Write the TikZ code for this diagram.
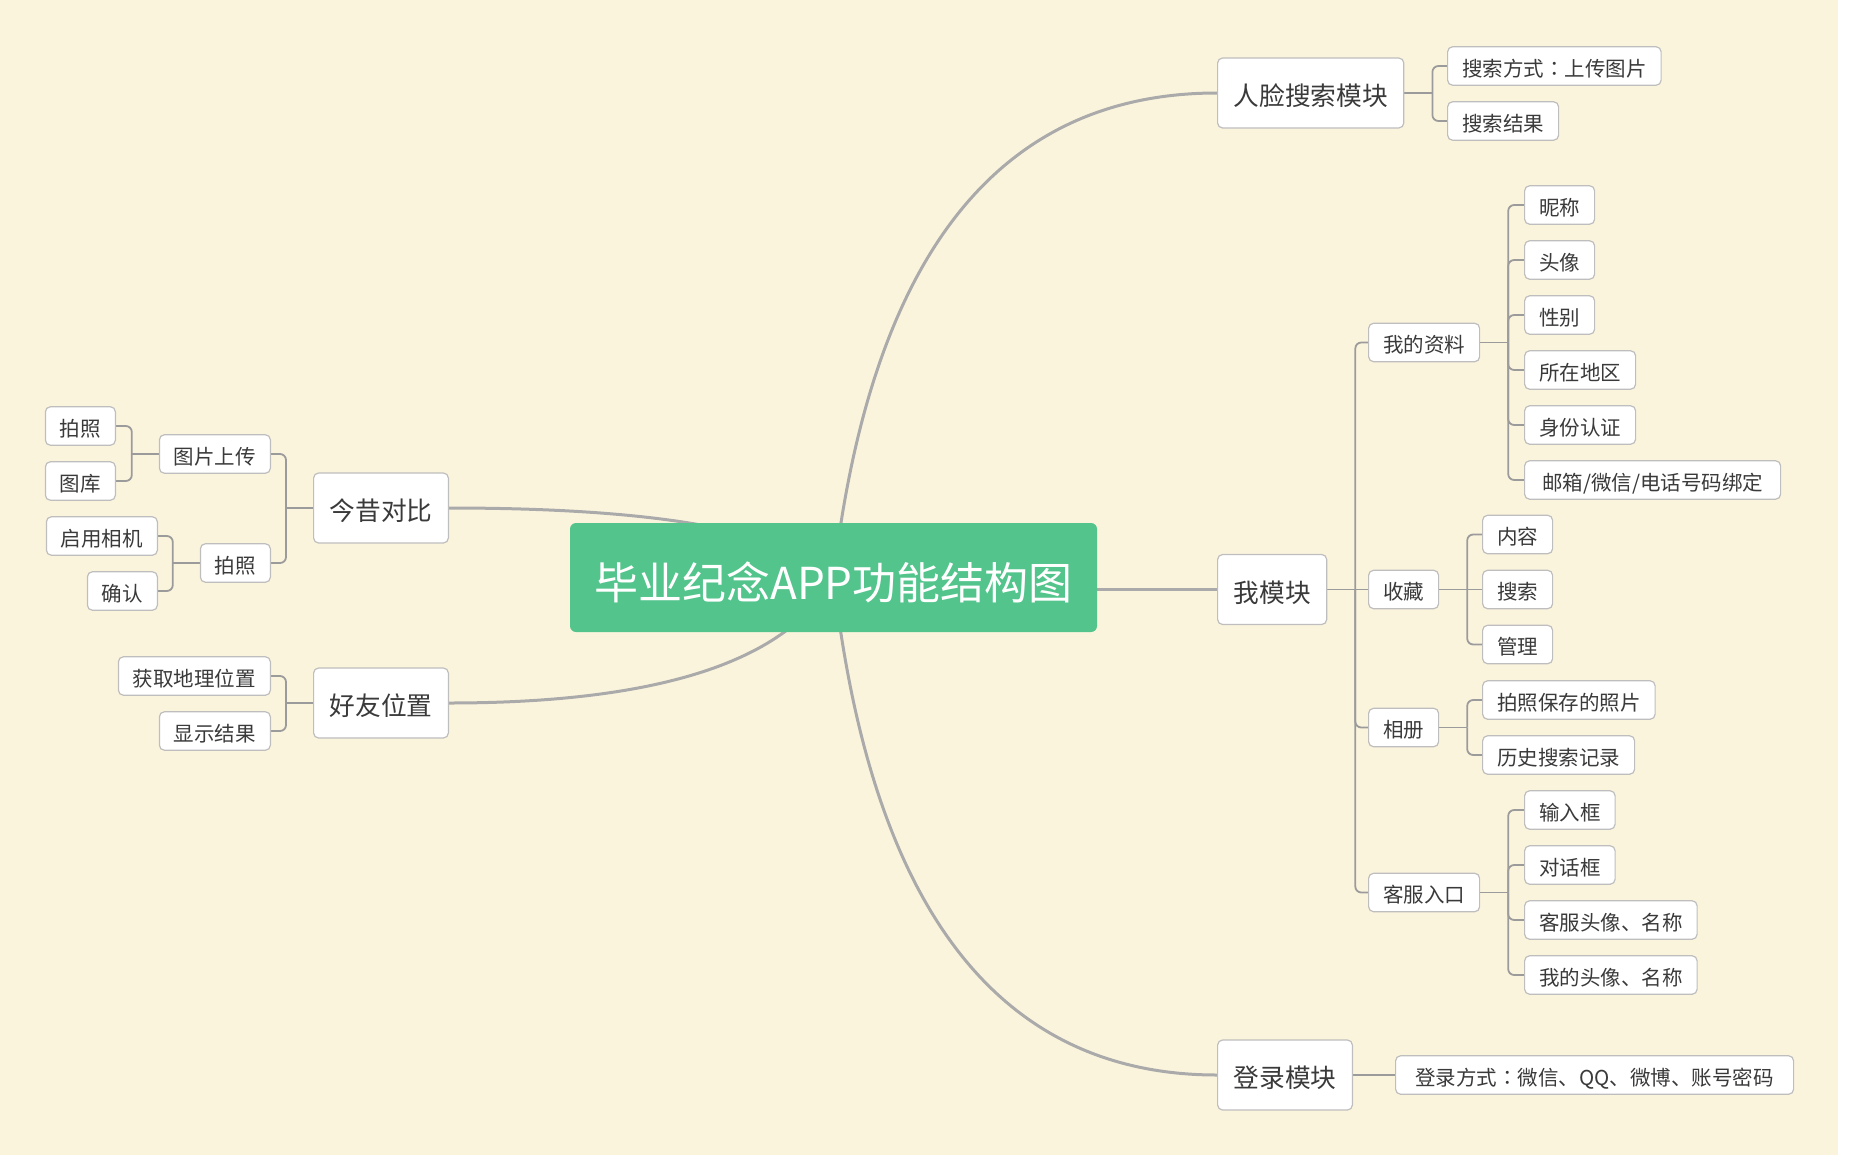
\documentclass[tikz,border=0pt]{standalone}
\usepackage{fontspec}
\setmainfont{Noto Sans CJK SC}
\newfontfamily\cjktc{Noto Sans CJK TC}
\pgfdeclarelayer{bg}
\pgfdeclarelayer{lines}
\pgfsetlayers{bg,lines,main}
\definecolor{bgc}{RGB}{251,244,221}
\definecolor{rootc}{RGB}{82,196,140}
\definecolor{boxc}{RGB}{190,190,190}
\definecolor{txtc}{RGB}{58,58,58}
\definecolor{mainc}{RGB}{170,170,170}
\definecolor{brc}{RGB}{155,155,155}
\newcommand\leaffont{\fontsize{20.5}{24}\selectfont}
\newcommand\midfont{\fontsize{25.7}{30}\selectfont}
\newcommand\rootfont{\fontsize{44}{50}\selectfont}
\newcommand\fwcolon{{\cjktc ：}}
\newcommand\kidsR[2]{%
  \path (#1.east) ++(28,0) coordinate (#1v);
  \draw[branchline] (#1.east) -- (#1v);
  \foreach \kid in {#2} {\draw[branchline] (#1v) |- (\kid.west);}}
\newcommand\kidsL[2]{%
  \path (#1.west) ++(-27,0) coordinate (#1v);
  \draw[branchline] (#1.west) -- (#1v);
  \foreach \kid in {#2} {\draw[branchline] (#1v) |- (\kid.east);}}
\tikzset{
  leafbox/.style={draw=boxc, line width=1.2pt, fill=white, rounded corners=5pt, text=txtc,
    font=\leaffont, inner xsep=14.5pt, inner ysep=0pt, minimum height=38.5pt,
    text height=20.5pt, text depth=0pt},
  midbox/.style={leafbox, font=\midfont, inner xsep=16pt, minimum height=70pt,
    text height=25.7pt},
  rootbox/.style={fill=rootc, rounded corners=6pt, text=white, font=\rootfont,
    minimum width=527pt, minimum height=109pt, inner sep=0pt, text height=44pt, text depth=0pt},
  mainline/.style={draw=mainc, line width=3pt},
  branchline/.style={draw=brc, line width=1.8pt, rounded corners=6pt},
}
\begin{document}
\begin{tikzpicture}[x=1pt,y=-1pt]
\useasboundingbox (0,0) rectangle (1850,1162);
\begin{pgfonlayer}{bg}
  \fill[white] (0,0) rectangle (1850,1162);
  \fill[bgc] (0,0) rectangle (1838,1155);
\end{pgfonlayer}

% root
\node[rootbox] (root) at (833.5,577.5) {毕业纪念APP功能结构图};

% right: face search
\node[midbox, anchor=west] (rl) at (1217,93) {人脸搜索模块};
\node[leafbox, anchor=west] (rl1) at (1447,66) {搜索方式\fwcolon 上传图片};
\node[leafbox, anchor=west] (rl2) at (1447,121) {搜索结果};

% right: me
\node[midbox, anchor=west] (me) at (1217,589.5) {我模块};
\node[leafbox, anchor=west] (zl) at (1368,342.5) {我的资料};
\node[leafbox, anchor=west] (zl1) at (1524,205) {昵称};
\node[leafbox, anchor=west] (zl2) at (1524,260) {头像};
\node[leafbox, anchor=west] (zl3) at (1524,315) {性别};
\node[leafbox, anchor=west] (zl4) at (1524,370) {所在地区};
\node[leafbox, anchor=west] (zl5) at (1524,425) {身份认证};
\node[leafbox, anchor=west, minimum width=256pt] (zl6) at (1524,480) {邮箱/微信/电话号码绑定};
\node[leafbox, anchor=west] (sc) at (1368,589.5) {收藏};
\node[leafbox, anchor=west] (sc1) at (1482,534.5) {内容};
\node[leafbox, anchor=west] (sc2) at (1482,589.5) {搜索};
\node[leafbox, anchor=west] (sc3) at (1482,644.5) {管理};
\node[leafbox, anchor=west] (xc) at (1368,727.5) {相册};
\node[leafbox, anchor=west] (xc1) at (1482,700) {拍照保存的照片};
\node[leafbox, anchor=west] (xc2) at (1482,755) {历史搜索记录};
\node[leafbox, anchor=west] (kf) at (1368,892.5) {客服入口};
\node[leafbox, anchor=west] (kf1) at (1524,810) {输入框};
\node[leafbox, anchor=west] (kf2) at (1524,865) {对话框};
\node[leafbox, anchor=west] (kf3) at (1524,920) {客服头像、名称};
\node[leafbox, anchor=west] (kf4) at (1524,975) {我的头像、名称};

% right: login
\node[midbox, anchor=west] (dl) at (1217,1075) {登录模块};
\node[leafbox, anchor=west, minimum width=398pt] (dl1) at (1395,1075) {登录方式\fwcolon 微信、QQ、微博、账号密码};

% left
\node[midbox, anchor=east] (jx) at (449,508) {今昔对比};
\node[leafbox, anchor=east] (tp) at (271,454) {图片上传};
\node[leafbox, anchor=east] (tp1) at (116,426) {拍照};
\node[leafbox, anchor=east] (tp2) at (116,481) {图库};
\node[leafbox, anchor=east] (pz) at (271,563) {拍照};
\node[leafbox, anchor=east] (pz1) at (158,536) {启用相机};
\node[leafbox, anchor=east] (pz2) at (158,591) {确认};
\node[midbox, anchor=east] (hy) at (449,703) {好友位置};
\node[leafbox, anchor=east] (hy1) at (271,676) {获取地理位置};
\node[leafbox, anchor=east] (hy2) at (271,731) {显示结果};

\begin{pgfonlayer}{lines}
  % main curves
  \draw[mainline] (root.center) .. controls (871.2,254.5) and (999,93) .. (rl.west);
  \draw[mainline] (root.center |- me.west) -- (me.west);
  \draw[mainline] (root.center) .. controls (871.2,909.2) and (999,1075) .. (dl.west);
  \draw[mainline] (root.center) .. controls (787.8,531.2) and (659.7,508) .. (jx.east);
  \draw[mainline] (root.center) .. controls (787.8,661.2) and (659.7,703) .. (hy.east);
  % branches right
  \kidsR{rl}{rl1,rl2}
  \kidsR{me}{zl,xc,kf}
  \draw[branchline] (me.east) -- (sc.west);
  \kidsR{zl}{zl1,zl2,zl3,zl4,zl5,zl6}
  \kidsR{sc}{sc1,sc3}
  \draw[branchline] (sc.east) -- (sc2.west);
  \kidsR{xc}{xc1,xc2}
  \kidsR{kf}{kf1,kf2,kf3,kf4}
  \draw[branchline] (dl.east) -- (dl1.west);
  % branches left
  \kidsL{jx}{tp,pz}
  \kidsL{tp}{tp1,tp2}
  \kidsL{pz}{pz1,pz2}
  \kidsL{hy}{hy1,hy2}
\end{pgfonlayer}
\end{tikzpicture}
\end{document}
